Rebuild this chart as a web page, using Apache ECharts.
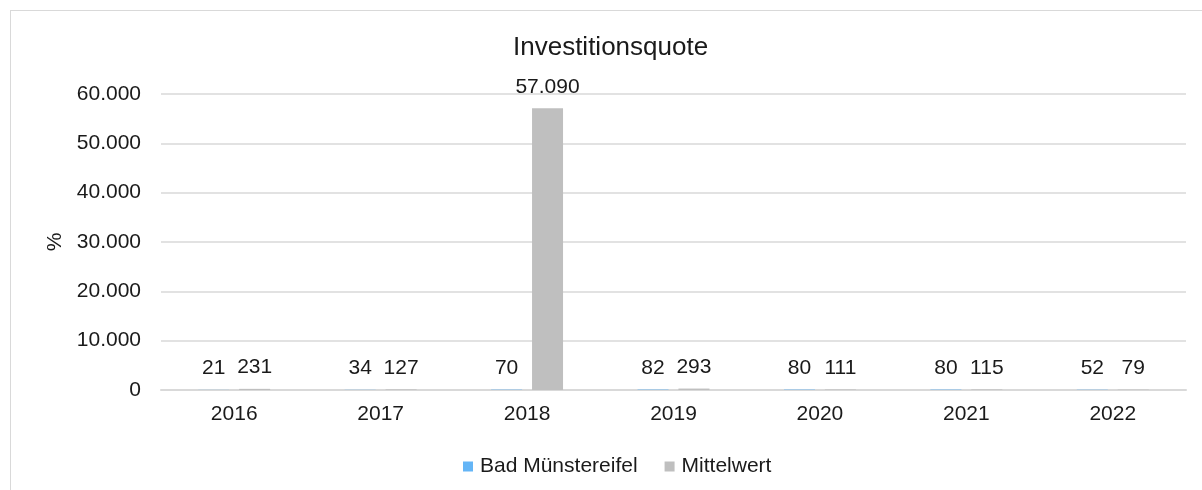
<!DOCTYPE html>
<html>
<head>
<meta charset="utf-8">
<style>
  html, body { margin: 0; padding: 0; overflow: hidden; background: #fff; }
  .frame {
    position: absolute; left: 10px; top: 10px;
    width: 1400px; height: 700px;
    border: 1px solid #d9d9d9;
  }
  .chart { position: absolute; left: 0; top: 0; width: 1202px; height: 490px; }
</style>
<script src="https://cdn.jsdelivr.net/npm/echarts@6/dist/echarts.min.js"></script>
</head>
<body>
<div class="frame"></div>
<div class="chart"></div>
<script>
  const years = ['2016', '2017', '2018', '2019', '2020', '2021', '2022']
  const badMuenstereifel = [21, 34, 70, 82, 80, 80, 52]
  const mittelwert = [231, 127, 57090, 293, 111, 115, 79]
  const yTicks = [0, 10000, 20000, 30000, 40000, 50000, 60000]

  // 12345 -> "12.345"
  const deNum = v => String(Math.round(v)).replace(/\B(?=(\d{3})+(?!\d))/g, '.')

  const font = 'Liberation Sans, Arial, sans-serif'
  const ink = '#1a1a1a'

  const barLabel = {
    show: true,
    position: 'top',
    distance: 11,
    fontFamily: font,
    fontSize: 21,
    color: ink,
    formatter: p => deNum(p.value)
  }

  const myChart = echarts.init(document.querySelector('.chart'))
  myChart.setOption({
    color: ['#64b5f6', '#bfbfbf'],
    textStyle: { fontFamily: font },
    title: {
      text: 'Investitionsquote',
      left: 513,
      top: 35,
      padding: 0,
      textStyle: { fontFamily: font, fontSize: 26, fontWeight: 'normal', color: ink }
    },
    legend: {
      left: 463,
      top: 456,
      padding: 0,
      icon: 'rect',
      itemWidth: 10,
      itemHeight: 10,
      itemGap: 27,
      textStyle: { fontFamily: font, fontSize: 21, color: ink, padding: [0, 0, 0, 2] },
      data: ['Bad Münstereifel', 'Mittelwert']
    },
    grid: { left: 161, right: 16, top: 94, bottom: 100, containLabel: false },
    xAxis: {
      type: 'category',
      data: years,
      axisTick: { show: false },
      axisLine: { lineStyle: { color: '#d9d9d9', width: 2 } },
      axisLabel: { fontFamily: font, fontSize: 21, color: ink, margin: 14 }
    },
    yAxis: {
      type: 'value',
      min: yTicks[0],
      max: yTicks[yTicks.length - 1],
      interval: yTicks[1] - yTicks[0],
      name: '%',
      nameLocation: 'middle',
      nameRotate: 90,
      nameGap: 90,
      nameTextStyle: { fontFamily: font, fontSize: 21, color: ink },
      axisLine: { show: false },
      axisTick: { show: false },
      splitLine: { lineStyle: { color: '#d9d9d9', width: 1.5 } },
      axisLabel: { fontFamily: font, fontSize: 21, color: ink, margin: 20, formatter: deNum }
    },
    series: [
      {
        name: 'Bad Münstereifel',
        type: 'bar',
        barWidth: 31,
        barGap: '32%',
        data: badMuenstereifel,
        label: barLabel
      },
      {
        name: 'Mittelwert',
        type: 'bar',
        barWidth: 31,
        barGap: '32%',
        data: mittelwert,
        label: barLabel
      }
    ]
  })
</script>
</body>
</html>
